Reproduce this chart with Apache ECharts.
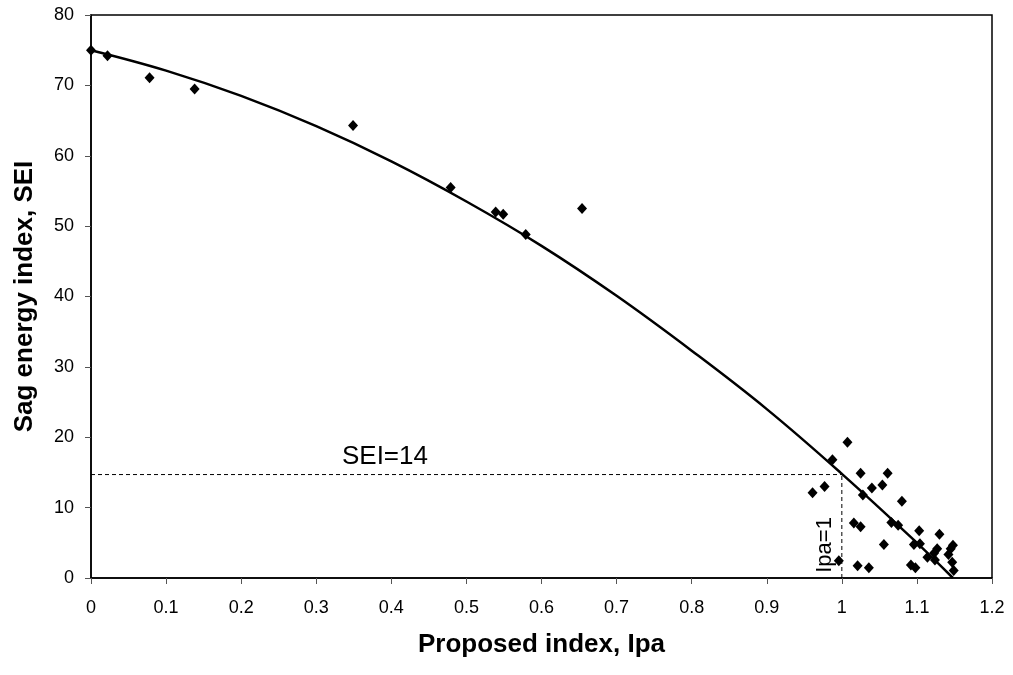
<!DOCTYPE html>
<html><head><meta charset="utf-8">
<script src="https://cdn.jsdelivr.net/npm/echarts@6/dist/echarts.min.js"></script>
<style>html,body{margin:0;padding:0;background:#fff}#c{width:1013px;height:675px}</style>
</head><body><div id="c"></div>
<script>
const pointsX = [0, 0.022, 0.078, 0.138, 0.349, 0.479, 0.539, 0.549, 0.579, 0.654,
  1.0075, 0.9875, 1.025, 1.061, 1.054, 1.040, 1.028, 0.961, 0.977, 1.080,
  1.016, 1.025, 1.066, 1.075, 1.103, 1.130, 1.056, 1.096, 1.104, 1.148,
  1.145, 1.127, 1.123, 1.142, 1.114, 1.124, 0.996, 1.147, 1.092, 1.098,
  1.021, 1.036, 1.149];
const pointsY = [75.0, 74.2, 71.1, 69.5, 64.3, 55.5, 52.0, 51.7, 48.8, 52.5,
  19.3, 16.8, 14.9, 14.9, 13.2, 12.8, 11.8, 12.1, 13.0, 10.9,
  7.8, 7.3, 7.9, 7.5, 6.7, 6.2, 4.75, 4.75, 4.85, 4.65,
  4.15, 4.15, 3.55, 3.35, 2.95, 2.55, 2.45, 2.25, 1.85, 1.45,
  1.75, 1.45, 1.05];
const curveX = [0, 0.1, 0.2, 0.3, 0.4, 0.5, 0.6, 0.7, 0.8, 0.9, 1.0, 1.1, 1.148];
const curveY = [75, 72.1, 68.5, 64.2, 59.2, 53.5, 47.2, 40.1, 32.3, 24.0, 14.8, 5.0, 0];
const hLineX = [0, 1]; const hLineY = [14.7, 14.7];
const vLineX = [1, 1]; const vLineY = [0, 14.7];
const annotations = [{x: 0.3915, y: 17.2, text: 'SEI=14', rot: 0, size: 26}, {x: 0.977, y: 4.7, text: 'Ipa=1', rot: 90, size: 22}];
const xTicks = ['0','0.1','0.2','0.3','0.4','0.5','0.6','0.7','0.8','0.9','1','1.1','1.2'];

const zip = (a, b) => a.map((v, i) => [v, b[i]]);
const F = 'Liberation Sans, Arial, sans-serif';
const chart = echarts.init(document.getElementById('c'), null, {renderer: 'canvas'});
chart.setOption({
  animation: false,
  backgroundColor: '#fff',
  grid: {left: 91, right: 21, top: 15, bottom: 97, show: true, borderColor: '#000', borderWidth: 1.5},
  xAxis: {
    type: 'value', min: 0, max: 1.2, interval: 0.1,
    name: 'Proposed index, Ipa', nameLocation: 'middle', nameGap: 54,
    nameTextStyle: {fontFamily: F, fontSize: 26, fontWeight: 'bold', color: '#000'},
    axisLine: {show: true, lineStyle: {color: '#000', width: 1.5}},
    axisTick: {show: true, length: 6, lineStyle: {color: '#555'}},
    axisLabel: {fontFamily: F, fontSize: 18, color: '#000', margin: 21,
      formatter: v => xTicks[Math.round(v * 10)]},
    splitLine: {show: false}
  },
  yAxis: {
    type: 'value', min: 0, max: 80, interval: 10,
    name: 'Sag energy index, SEI', nameLocation: 'middle', nameGap: 53,
    nameTextStyle: {fontFamily: F, fontSize: 26, fontWeight: 'bold', color: '#000'},
    axisLine: {show: true, lineStyle: {color: '#000', width: 1.5}},
    axisTick: {show: true, length: 6, lineStyle: {color: '#555'}},
    axisLabel: {fontFamily: F, fontSize: 18, color: '#000', margin: 17},
    splitLine: {show: false}
  },
  series: [
    {type: 'line', data: zip(curveX, curveY), smooth: 0.4, showSymbol: false,
     lineStyle: {color: '#000', width: 2.5}, silent: true, z: 2},
    {type: 'line', data: zip(hLineX, hLineY), showSymbol: false,
     lineStyle: {color: '#000', width: 1, type: [4, 3]}, z: 1},
    {type: 'line', data: zip(vLineX, vLineY), showSymbol: false,
     lineStyle: {color: '#000', width: 1, type: [4, 3]}, z: 1},
    {type: 'scatter', data: zip(pointsX, pointsY), symbol: 'diamond', symbolSize: [10, 11],
     itemStyle: {color: '#000', opacity: 1}, z: 3},
    {type: 'scatter', symbolSize: 1, z: 4, itemStyle: {opacity: 0},
     data: annotations.map(a => ({value: [a.x, a.y], label: {show: true, formatter: a.text, rotate: a.rot,
       position: 'inside', fontFamily: F, fontSize: a.size, color: '#000', opacity: 1}}))}
  ]
});
</script></body></html>
